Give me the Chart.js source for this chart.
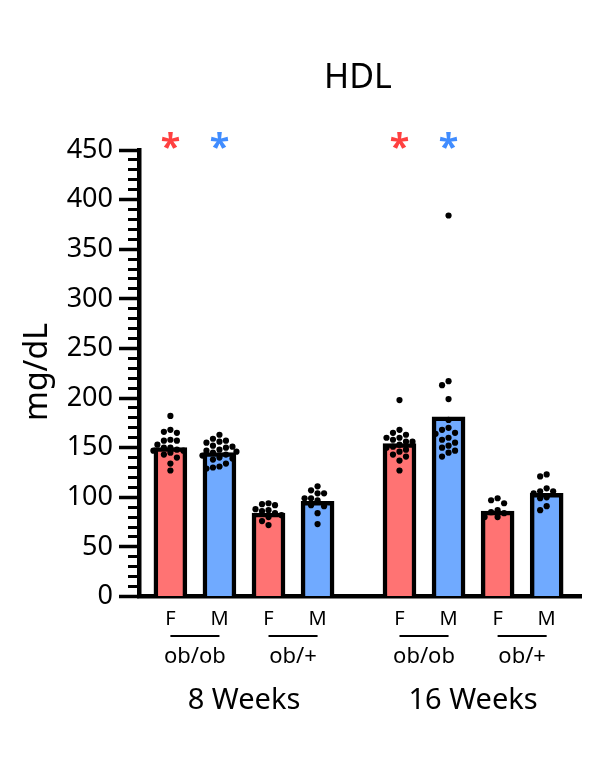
<!DOCTYPE html>
<html>
<head>
<meta charset="utf-8">
<script src="https://cdn.jsdelivr.net/npm/chart.js@4.4.1/dist/chart.umd.min.js"></script>
<style>
  html, body { margin: 0; padding: 0; background: #fff; }
</style>
</head>
<body>
<canvas id="hdlChart" width="600" height="770"></canvas>
<script>
// Dados
const sexes = ['F', 'M', 'F', 'M', 'F', 'M', 'F', 'M'];
const genotypes = ['ob/ob', 'ob/+', 'ob/ob', 'ob/+'];
const ages = ['8 Weeks', '16 Weeks'];
const positions = [1, 2, 3, 4, 5.67, 6.67, 7.67, 8.67];
const means = [150, 145, 84, 96, 154, 181, 86, 104];
const starred = [0, 1, 4, 5];
const yTicks = [0, 450, 50, 10];

const g1 = [182, 168, 166, 165, 158, 157, 157, 153, 150, 150, 148, 147, 147, 145, 143, 140, 134, 127];
const g2 = [163, 159, 157, 156, 155, 152, 151, 150, 148, 147, 146, 145, 143, 142, 140, 139, 138, 134, 131, 130, 129];
const g3 = [94, 93, 92, 88, 87, 86, 84, 82, 80, 76, 72];
const g4 = [111, 107, 104, 104, 99, 99, 97, 92, 91, 84, 73];
const g5 = [198, 168, 165, 163, 160, 160, 158, 156, 156, 153, 151, 150, 148, 146, 143, 141, 137, 127];
const g6 = [384, 217, 213, 199, 178, 170, 168, 165, 164, 160, 158, 155, 152, 150, 147, 145, 141];
const g7 = [99, 97, 94, 87, 85, 84, 80, 80];
const g8 = [123, 121, 109, 106, 106, 104, 100, 99, 91, 87];
const groups = [g1, g2, g3, g4, g5, g6, g7, g8];

const barColors = { F: 'rgb(255,115,115)', M: 'rgb(112,170,255)' };
const starColors = { F: 'rgb(255,64,64)', M: 'rgb(64,140,255)' };

const X_MIN = 0.36, X_MAX = 9.37;
const PX_X = 442 / (X_MAX - X_MIN);   // pixels por unidade em x
const PX_Y = 446.5 / yTicks[1];       // pixels por unidade em y

// Espalhar os pontos (beeswarm simples) para não se sobreporem
function espalhar(valores, centro) {
  const placed = [];
  const out = [];
  const passos = [0, -6.5, 6.5, -13, 13, -17, 17];
  valores.forEach(v => {
    const py = v * PX_Y;
    let dx = 0;
    for (const p of passos) {
      if (placed.every(q => Math.hypot(q.x - p, q.y - py) >= 6.2)) { dx = p; break; }
    }
    placed.push({ x: dx, y: py });
    out.push({ x: centro + dx / PX_X, y: v });
  });
  return out;
}

const pontos = [];
groups.forEach((g, i) => pontos.push(...espalhar(g, positions[i])));

const font = '"Noto Sans", sans-serif';

const textos = {
  id: 'textos',
  afterDraw(chart) {
    const ctx = chart.ctx;
    const x = chart.scales.x;
    ctx.save();
    ctx.fillStyle = '#000';
    ctx.textAlign = 'center';
    ctx.textBaseline = 'alphabetic';

    ctx.font = '34px ' + font;
    ctx.fillText('HDL', 358, 88);

    ctx.save();
    ctx.translate(47, 372);
    ctx.rotate(-Math.PI / 2);
    ctx.font = '32px ' + font;
    ctx.fillText('mg/dL', 0, 0);
    ctx.restore();

    ctx.font = '20px ' + font;
    sexes.forEach((s, i) => ctx.fillText(s, x.getPixelForValue(positions[i]), 625));

    ctx.lineWidth = 2;
    ctx.strokeStyle = '#000';
    ctx.font = '22px ' + font;
    genotypes.forEach((g, k) => {
      const a = x.getPixelForValue(positions[2 * k]);
      const b = x.getPixelForValue(positions[2 * k + 1]);
      ctx.beginPath();
      ctx.moveTo(a, 636);
      ctx.lineTo(b, 636);
      ctx.stroke();
      ctx.fillText(g, (a + b) / 2, 663);
    });

    ctx.font = '29px ' + font;
    ages.forEach((a, k) => {
      const p0 = x.getPixelForValue(positions[4 * k]);
      const p1 = x.getPixelForValue(positions[4 * k + 3]);
      ctx.fillText(a, (p0 + p1) / 2, 709);
    });

    ctx.font = 'bold 36px ' + font;
    starred.forEach(i => {
      ctx.fillStyle = starColors[sexes[i]];
      ctx.fillText('*', x.getPixelForValue(positions[i]), 159);
    });
    ctx.restore();
  }
};

const ctxHdl = document.getElementById('hdlChart').getContext('2d');
const hdlChart = new Chart(ctxHdl, {
  type: 'bar',
  data: {
    datasets: [{
      type: 'scatter',
      data: pontos,
      backgroundColor: '#000',
      borderWidth: 0,
      pointRadius: 3.1,
      order: 0
    }, {
      type: 'bar',
      data: positions.map((p, i) => ({ x: p, y: means[i] })),
      backgroundColor: sexes.map(s => barColors[s]),
      borderColor: '#000',
      borderWidth: 4.5,
      borderSkipped: 'start',
      barThickness: 33,
      order: 1
    }]
  },
  options: {
    responsive: false,
    animation: false,
    layout: { padding: { top: 150, right: 19, bottom: 173.5, left: 0 } },
    plugins: { legend: { display: false }, tooltip: { enabled: false } },
    scales: {
      x: {
        type: 'linear',
        offset: false,
        min: X_MIN,
        max: X_MAX,
        grid: { display: false },
        ticks: { display: false },
        border: { display: true, color: '#000', width: 4.5 },
        afterFit: s => { s.height = 0; }
      },
      y: {
        position: 'left',
        weight: 1,
        min: yTicks[0],
        max: yTicks[1],
        ticks: { stepSize: yTicks[2], padding: 6, color: '#000', font: { family: font, size: 27 } },
        grid: { drawOnChartArea: false, tickLength: 20, tickWidth: 3.5, color: '#000' },
        border: { display: false },
        afterFit: s => { s.width = 139; }
      },
      yMinor: {
        position: 'left',
        weight: 0,
        min: yTicks[0],
        max: yTicks[1],
        ticks: { stepSize: yTicks[3], display: false },
        grid: { drawOnChartArea: false, tickLength: 11, tickWidth: 3, color: '#000' },
        border: { display: true, color: '#000', width: 4.5 },
        afterFit: s => { s.width = 0; }
      }
    }
  },
  plugins: [textos]
});
</script>
</body>
</html>
